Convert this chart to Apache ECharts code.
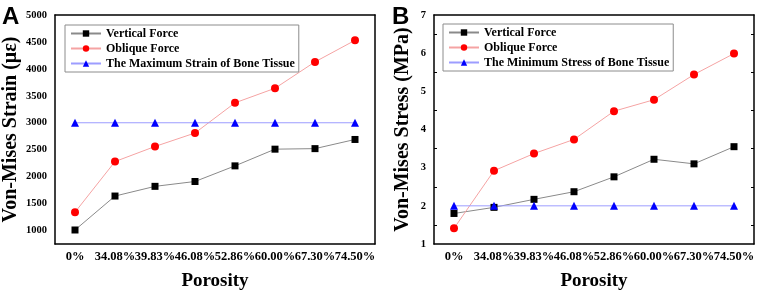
<!DOCTYPE html>
<html>
<head>
<meta charset="utf-8">
<script src="https://cdn.jsdelivr.net/npm/echarts@6/dist/echarts.min.js"></script>
<style>
  html, body { margin: 0; padding: 0; background: #fff; }
  #chart { width: 761px; height: 296px; }
</style>
</head>
<body>
<div id="chart"></div>
<script>
const categories = ['0%', '34.08%', '39.83%', '46.08%', '52.86%', '60.00%', '67.30%', '74.50%']

// panel A - strain (με)
const strainVertical = [1010, 1640, 1820, 1910, 2200, 2510, 2520, 2690]
const strainOblique = [1340, 2280, 2560, 2810, 3370, 3640, 4130, 4530]
const strainBoneMax = [3000, 3000, 3000, 3000, 3000, 3000, 3000, 3000]

// panel B - stress (MPa)
const stressVertical = [1.80, 1.96, 2.17, 2.37, 2.76, 3.22, 3.10, 3.55]
const stressOblique = [1.41, 2.92, 3.37, 3.74, 4.48, 4.78, 5.44, 5.99]
const stressBoneMin = [2, 2, 2, 2, 2, 2, 2, 2]

const serif = 'Liberation Serif'
const chart = echarts.init(document.getElementById('chart'))

const xBottom = (gridIndex) => ({
  type: 'category',
  gridIndex,
  data: categories,
  boundaryGap: true,
  axisLine: { lineStyle: { color: '#000', width: 1.5 } },
  axisTick: { inside: true, alignWithLabel: true, length: 4, lineStyle: { color: '#000' } },
  axisLabel: { color: '#000', fontFamily: serif, fontWeight: 'bold', fontSize: 12.5, margin: 6, interval: 0 },
  name: 'Porosity',
  nameLocation: 'middle',
  nameGap: 28,
  nameTextStyle: { color: '#000', fontFamily: serif, fontWeight: 'bold', fontSize: 19 },
})

const xTop = (gridIndex) => ({
  type: 'category',
  gridIndex,
  position: 'top',
  data: categories,
  boundaryGap: true,
  axisLine: { lineStyle: { color: '#000', width: 1.5 } },
  axisTick: { inside: true, alignWithLabel: true, length: 4, lineStyle: { color: '#000' } },
  axisLabel: { show: false },
})

const yStyle = {
  axisLine: { show: true, lineStyle: { color: '#000', width: 1.5 } },
  splitLine: { show: false },
}

const vertStyle = {
  type: 'line',
  symbol: 'rect',
  symbolSize: 7,
  itemStyle: { color: '#000' },
  lineStyle: { color: '#8a8a8a', width: 1 },
}
const obliqueStyle = {
  type: 'line',
  symbol: 'circle',
  symbolSize: 8,
  itemStyle: { color: '#ff0000' },
  lineStyle: { color: '#f5a3a3', width: 1 },
}
const boneStyle = {
  type: 'line',
  symbol: 'triangle',
  symbolSize: 8,
  itemStyle: { color: '#0000ff' },
  lineStyle: { color: '#9d9dff', width: 1 },
}

const legendBase = {
  orient: 'vertical',
  itemWidth: 30,
  itemHeight: 8,
  itemGap: 0,
  padding: [1, 4, 1, 5],
  borderColor: '#8c8c8c',
  borderWidth: 1,
  backgroundColor: '#fff',
  textStyle: { color: '#000', fontFamily: serif, fontWeight: 'bold', fontSize: 12, lineHeight: 15 },
}

const option = {
  animation: false,
  grid: [
    { left: 54, top: 15, width: 321, height: 233 },
    { left: 434, top: 15, width: 320, height: 233 },
  ],
  xAxis: [xBottom(0), xTop(0), xBottom(1), xTop(1)],
  yAxis: [
    {
      type: 'value',
      gridIndex: 0,
      min: 750,
      max: 5000,
      interval: 250,
      ...yStyle,
      axisTick: { inside: true, length: 4, lineStyle: { color: '#000' } },
      axisLabel: {
        color: '#000', fontFamily: serif, fontWeight: 'bold', fontSize: 10.5, margin: 8,
        formatter: (v) => (v % 500 === 0 ? String(v) : ''),
      },
      name: 'Von-Mises Strain (με)',
      nameLocation: 'middle',
      nameGap: 34,
      nameTextStyle: { color: '#000', fontFamily: serif, fontWeight: 'bold', fontSize: 20 },
    },
    {
      type: 'value',
      gridIndex: 0,
      position: 'right',
      min: 750,
      max: 5000,
      interval: 250,
      ...yStyle,
      axisTick: { inside: true, length: 4, lineStyle: { color: '#000' } },
      axisLabel: { show: false },
    },
    {
      type: 'value',
      gridIndex: 1,
      min: 1,
      max: 7,
      interval: 1,
      ...yStyle,
      axisTick: { inside: true, length: 5, lineStyle: { color: '#000' } },
      minorTick: { show: true, splitNumber: 2, length: 3, lineStyle: { color: '#000' } },
      axisLabel: { color: '#000', fontFamily: serif, fontWeight: 'bold', fontSize: 10.5, margin: 8 },
      name: 'Von-Mises Stress (MPa)',
      nameLocation: 'middle',
      nameGap: 21,
      nameTextStyle: { color: '#000', fontFamily: serif, fontWeight: 'bold', fontSize: 20 },
    },
    {
      type: 'value',
      gridIndex: 1,
      position: 'right',
      min: 1,
      max: 7,
      interval: 1,
      ...yStyle,
      axisTick: { inside: true, length: 5, lineStyle: { color: '#000' } },
      minorTick: { show: true, splitNumber: 2, length: 3, lineStyle: { color: '#000' } },
      axisLabel: { show: false },
    },
  ],
  legend: [
    {
      ...legendBase,
      left: 65,
      top: 25,
      data: ['Vertical Force', 'Oblique Force', 'The Maximum Strain of Bone Tissue'],
    },
    {
      ...legendBase,
      left: 443,
      top: 24,
      data: ['Vertical Force', 'Oblique Force', 'The Minimum Stress of Bone Tissue'],
    },
  ],
  graphic: [
    { type: 'text', left: 2, top: 5, style: { text: 'A', font: 'bold 24px "Liberation Sans"', fill: '#000' } },
    { type: 'text', left: 392, top: 5, style: { text: 'B', font: 'bold 24px "Liberation Sans"', fill: '#000' } },
  ],
  series: [
    { ...vertStyle, name: 'Vertical Force', xAxisIndex: 0, yAxisIndex: 0, data: strainVertical },
    { ...obliqueStyle, name: 'Oblique Force', xAxisIndex: 0, yAxisIndex: 0, data: strainOblique },
    { ...boneStyle, name: 'The Maximum Strain of Bone Tissue', xAxisIndex: 0, yAxisIndex: 0, data: strainBoneMax },
    { ...vertStyle, name: 'Vertical Force', xAxisIndex: 2, yAxisIndex: 2, data: stressVertical },
    { ...obliqueStyle, name: 'Oblique Force', xAxisIndex: 2, yAxisIndex: 2, data: stressOblique },
    { ...boneStyle, name: 'The Minimum Stress of Bone Tissue', xAxisIndex: 2, yAxisIndex: 2, data: stressBoneMin },
  ],
}

chart.setOption(option)
</script>
</body>
</html>
